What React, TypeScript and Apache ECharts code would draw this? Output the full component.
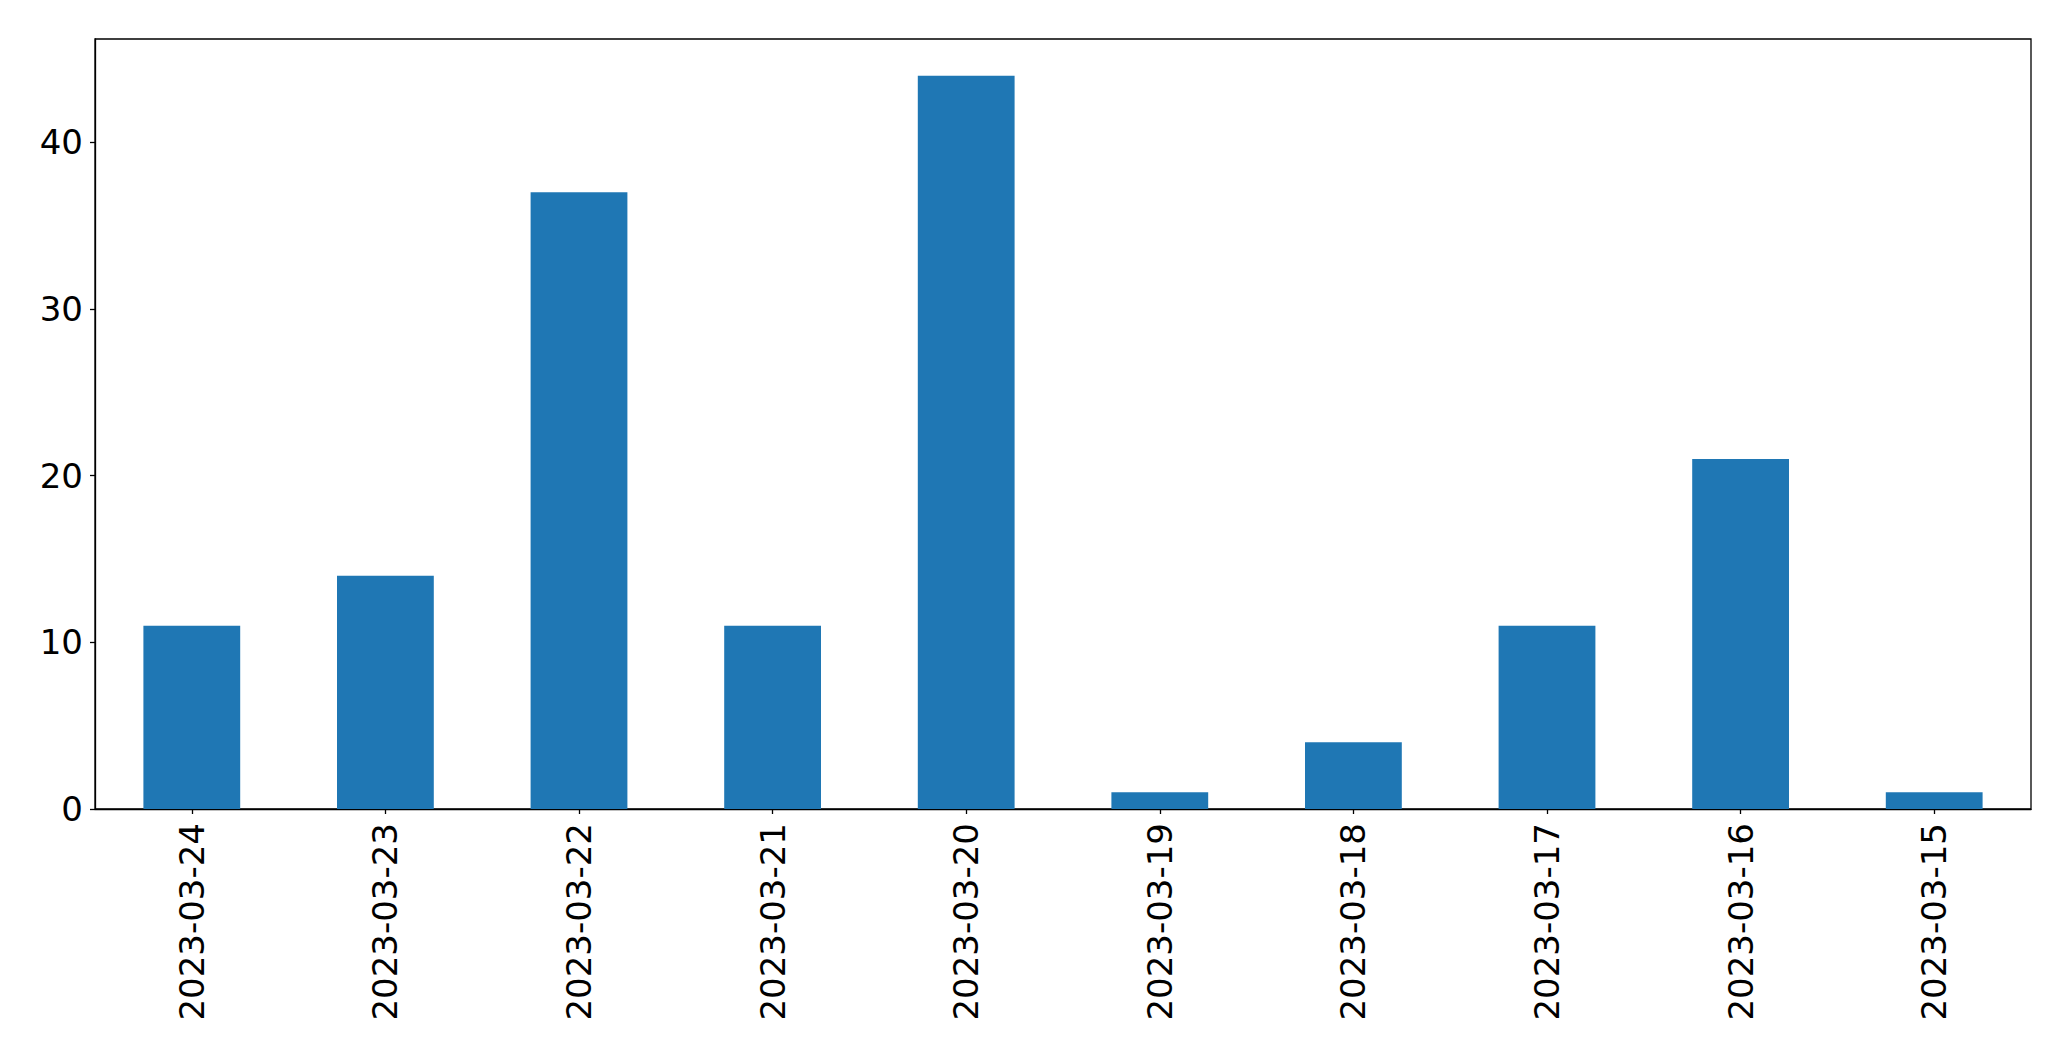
import React, { useEffect, useRef } from "react";
import * as echarts from "echarts";

const categories = [
  "2023-03-24", "2023-03-23", "2023-03-22", "2023-03-21", "2023-03-20",
  "2023-03-19", "2023-03-18", "2023-03-17", "2023-03-16", "2023-03-15",
];
const values = [11, 14, 37, 11, 44, 1, 4, 11, 21, 1];
const yTicks = [0, 10, 20, 30, 40];
const yMax = 46.2;

export default function App() {
  const ref = useRef<HTMLDivElement>(null);
  useEffect(() => {
    if (!ref.current) return;
    const chart = echarts.init(ref.current, null, { renderer: "svg" });
    const font = "DejaVu Sans";
    chart.setOption({
      animation: false,
      backgroundColor: "#ffffff",
      grid: {
        left: 95,
        top: 39,
        right: 40,
        bottom: 252,
        show: true,
        borderColor: "#000",
        borderWidth: 1.3,
        containLabel: false,
      },
      xAxis: {
        type: "category",
        data: categories,
        boundaryGap: true,
        axisLine: { show: true, lineStyle: { color: "#000", width: 1.3 } },
        axisTick: {
          show: true,
          alignWithLabel: true,
          length: 5,
          lineStyle: { color: "#000", width: 1.3 },
        },
        axisLabel: {
          rotate: 90,
          margin: 14,
          color: "#000",
          fontSize: 34,
          fontFamily: font,
          interval: 0,
        },
        splitLine: { show: false },
      },
      yAxis: {
        type: "value",
        min: 0,
        max: yMax,
        interval: 10,
        axisLine: { show: true, lineStyle: { color: "#000", width: 1.3 } },
        axisTick: {
          show: true,
          length: 5,
          lineStyle: { color: "#000", width: 1.3 },
          customValues: yTicks,
        },
        axisLabel: {
          margin: 12,
          color: "#000",
          fontSize: 34,
          fontFamily: font,
          customValues: yTicks,
        },
        splitLine: { show: false },
      },
      series: [
        {
          type: "bar",
          data: values,
          barWidth: "50%",
          itemStyle: { color: "#1f77b4" },
        },
      ],
    });
    return () => chart.dispose();
  }, []);
  return (
    <div
      ref={ref}
      style={{ position: "absolute", left: 0, top: 0, width: 2071, height: 1061 }}
    />
  );
}
